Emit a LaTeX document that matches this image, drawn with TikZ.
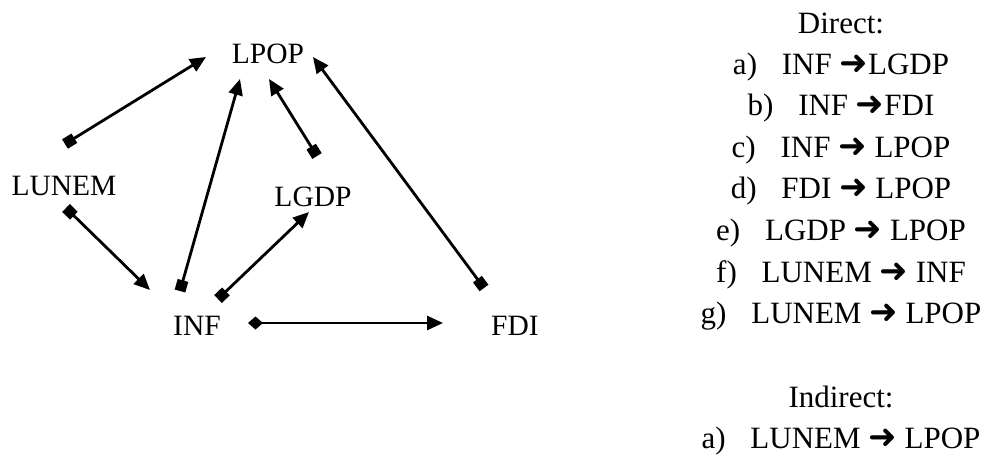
\documentclass[tikz,border=0pt]{standalone}
\usepackage{fontspec}
\setmainfont{Liberation Serif}
\newfontfamily\arrowfont{DejaVu Sans}
\usetikzlibrary{arrows.meta}
\tikzset{
  var/.style={anchor=base, inner sep=0pt, font=\fontsize{29.5}{35}\selectfont},
  item/.style={anchor=base, inner sep=0pt, font=\fontsize{31}{37}\selectfont},
  link/.style={line width=2.8pt, {Square[length=11pt,width=11pt]}-{Triangle[length=16pt,width=14pt]}},
  dlink/.style={line width=2.8pt, {Diamond[length=15pt,width=13pt]}-{Triangle[length=16pt,width=14pt]}}
}
\newcommand{\ra}{{\arrowfont\bfseries\fontsize{34}{36}\selectfont ➜}}
\begin{document}
\begin{tikzpicture}[x=1pt,y=-1pt]
\useasboundingbox (0,0) rectangle (987,455);

% variables
\node[var] (lpop)  at (268,63)  {LPOP};
\node[var] (lunem) at (64,195)  {LUNEM};
\node[var] (lgdp)  at (313,206) {LGDP};
\node[var] (inf)   at (197,335) {INF};
\node[var] (fdi)   at (515,335) {FDI};

% connector end points
\coordinate (lunemT) at (65,144);
\coordinate (lunemB) at (66,208);
\coordinate (infL)   at (180,291);
\coordinate (infR)   at (218,299);
\coordinate (infE)   at (248,323);
\coordinate (lgdpT)  at (317,156);
\coordinate (fdiT)   at (484,288);
\coordinate (lpopL)  at (206,57);
\coordinate (lpopB1) at (240,79);
\coordinate (lpopB2) at (269,79);
\coordinate (lpopR)  at (313,57);
\coordinate (infA)   at (150,290);
\coordinate (lgdpB)  at (309,212);
\coordinate (fdiA)   at (443,323);

% connectors
\draw[link] (lunemT) -- (lpopL);
\draw[link] (lunemB) -- (infA);
\draw[link] (infL) -- (lpopB1);
\draw[link] (lgdpT) -- (lpopB2);
\draw[link] (fdiT) -- (lpopR);
\draw[link] (infR) -- (lgdpB);
\draw[dlink] (infE) -- (fdiA);

% list of effects
\node[item] (h1) at (841,33)  {Direct:};
\node[item] (d1) at (841,74)  {a)\hspace{0.8em}INF \ra LGDP};
\node[item] (d2) at (841,115) {b)\hspace{0.8em}INF \ra FDI};
\node[item] (d3) at (841,157) {c)\hspace{0.8em}INF \ra\ LPOP};
\node[item] (d4) at (841,198) {d)\hspace{0.8em}FDI \ra\ LPOP};
\node[item] (d5) at (841,240) {e)\hspace{0.8em}LGDP \ra\ LPOP};
\node[item] (d6) at (841,282) {f)\hspace{0.8em}LUNEM \ra\ INF};
\node[item] (d7) at (841,323) {g)\hspace{0.8em}LUNEM \ra\ LPOP};
\node[item] (h2) at (841,407) {Indirect:};
\node[item] (i1) at (841,448) {a)\hspace{0.8em}LUNEM \ra\ LPOP};
\end{tikzpicture}
\end{document}
